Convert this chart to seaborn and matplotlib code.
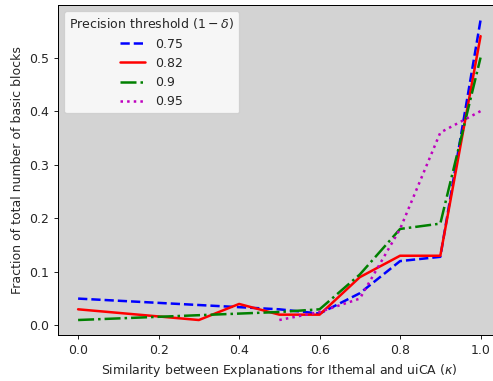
import pandas as pd
import matplotlib
matplotlib.use("Agg")
import matplotlib.pyplot as plt
import seaborn as sns

# values
kappa_075 = [0.0, 0.5, 0.6, 0.7, 0.8, 0.9, 1.0]
frac_075 = [0.05, 0.03, 0.022, 0.06, 0.12, 0.128, 0.57]

kappa_082 = [0.0, 0.3, 0.4, 0.5, 0.6, 0.7, 0.8, 0.9, 1.0]
frac_082 = [0.03, 0.01, 0.04, 0.02, 0.02, 0.09, 0.13, 0.13, 0.54]

kappa_09 = [0.0, 0.5, 0.6, 0.7, 0.8, 0.9, 1.0]
frac_09 = [0.01, 0.025, 0.03, 0.095, 0.18, 0.19, 0.50]

kappa_095 = [0.5, 0.6, 0.7, 0.8, 0.9, 1.0]
frac_095 = [0.01, 0.025, 0.05, 0.18, 0.36, 0.40]

thresholds = ["0.75", "0.82", "0.9", "0.95"]


def main():
    series = [
        (thresholds[0], kappa_075, frac_075, "b", "--"),
        (thresholds[1], kappa_082, frac_082, "r", "-"),
        (thresholds[2], kappa_09, frac_09, "g", "-."),
        (thresholds[3], kappa_095, frac_095, "m", ":"),
    ]

    sns.set_style("ticks")
    # the reference looks like a slightly shrunk render, so use dpi 90
    fig = plt.figure(figsize=(493 / 90, 381 / 90), dpi=90)
    ax = fig.add_axes([0.1176, 0.1207, 0.898, 0.866])
    ax.set_facecolor("lightgray")

    for label, xs, ys, color, ls in series:
        df = pd.DataFrame({"kappa": xs, "frac": ys})
        sns.lineplot(data=df, x="kappa", y="frac", ax=ax, color=color,
                     linestyle=ls, linewidth=2, label=label)

    ax.set_xlabel("Similarity between Explanations for Ithemal and uiCA ($\\kappa$)")
    ax.set_ylabel("Fraction of total number of basic blocks")
    ax.set_xticks([0.0, 0.2, 0.4, 0.6, 0.8, 1.0])
    ax.set_yticks([0.0, 0.1, 0.2, 0.3, 0.4, 0.5])
    ax.legend(title="Precision threshold $(1-\\delta)$", loc="upper left")
    for s in ax.spines.values():
        s.set_color("black")

    plt.savefig("out.png", dpi=90)


if __name__ == "__main__":
    main()
